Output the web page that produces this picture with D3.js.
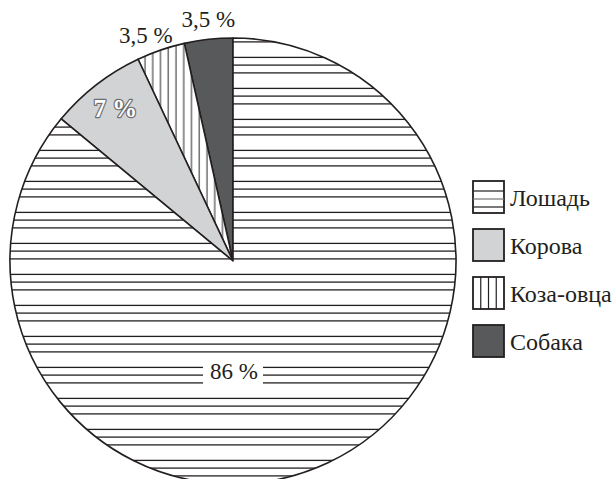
<!DOCTYPE html>
<html>
<head>
<meta charset="utf-8">
<script src="https://cdn.jsdelivr.net/npm/d3@7"></script>
</head>
<body style="margin:0">
<script>
// data (counter-clockwise from 12 o'clock)
const categories = ["Собака", "Коза-овца", "Корова", "Лошадь"]
const values = [3.5, 3.5, 7, 86]
const labels = ["3,5 %", "3,5 %", "7 %", "86 %"]
// legend order
const legendOrder = ["Лошадь", "Корова", "Коза-овца", "Собака"]

const WIDTH = 616
const HEIGHT = 479
const CX = 233, CY = 261, R = 223
const INK = "#231f20"
const SERIF = "Liberation Serif"

const svg = d3.select("body").append("svg")
  .attr("width", WIDTH)
  .attr("height", HEIGHT)

// hatch patterns
const defs = svg.append("defs")

const horiz = defs.append("pattern")
  .attr("id", "horiz")
  .attr("patternUnits", "userSpaceOnUse")
  .attr("width", 10).attr("height", 31)
horiz.append("rect").attr("width", 10).attr("height", 31).attr("fill", "#fff")
;[13.4, 21.1, 28.9].forEach(y => {
  horiz.append("line")
    .attr("x1", 0).attr("x2", 10).attr("y1", y).attr("y2", y)
    .attr("stroke", INK).attr("stroke-width", 1.3)
})

const vert = defs.append("pattern")
  .attr("id", "vert")
  .attr("patternUnits", "userSpaceOnUse")
  .attr("width", 7.75).attr("height", 10)
vert.append("rect").attr("width", 7.75).attr("height", 10).attr("fill", "#fff")
vert.append("line")
  .attr("x1", 5).attr("x2", 5).attr("y1", 0).attr("y2", 10)
  .attr("stroke", "#4a4a4a").attr("stroke-width", 1.2)

const fills = d3.scaleOrdinal()
  .domain(categories)
  .range(["#58595b", "url(#vert)", "#d1d3d4", "url(#horiz)"])

// pie
const g = svg.append("g")
  .attr("transform", `translate(${CX}, ${CY})`)

const pie = d3.pie()
  .sort(null)
  .startAngle(0)
  .endAngle(-2 * Math.PI)
  .value(d => d.value)

const data = categories.map((c, i) => ({ name: c, value: values[i], label: labels[i] }))
const arcs = pie(data)

const arc = d3.arc().innerRadius(0).outerRadius(R)

g.selectAll("path.slice")
  .data(arcs)
  .enter().append("path")
  .attr("class", "slice")
  .attr("d", arc)
  .attr("fill", d => fills(d.data.name))
  .attr("stroke", INK)
  .attr("stroke-width", 1.6)
  .attr("stroke-linejoin", "round")

// labels
const outerArc = d3.arc().innerRadius(235).outerRadius(235)
const innerArc = d3.arc().innerRadius(192).outerRadius(192)

// dog + goat: outside the rim
arcs.slice(0, 2).forEach((d, i) => {
  const [x, y] = outerArc.centroid(d)
  g.append("text")
    .attr("x", x + (i === 1 ? -11 : 1))
    .attr("y", y + (i === 1 ? 4 : 0))
    .attr("text-anchor", "middle")
    .style("font-family", SERIF)
    .style("font-size", "23px")
    .attr("fill", INK)
    .text(d.data.label)
})

// cow: bold white label inside the slice
{
  const d = arcs[2]
  const [x, y] = innerArc.centroid(d)
  g.append("text")
    .attr("x", x)
    .attr("y", y + 8)
    .attr("text-anchor", "middle")
    .style("font-family", SERIF)
    .style("font-size", "25px")
    .style("font-weight", "bold")
    .attr("stroke", "#6d6e70")
    .attr("stroke-width", 2.4)
    .attr("stroke-linejoin", "round")
    .attr("paint-order", "stroke")
    .attr("fill", "#fff")
    .text(d.data.label)
}

// horse: below the centre, on a white patch
{
  const d = arcs[3]
  g.append("rect")
    .attr("x", -30).attr("y", 101)
    .attr("width", 60).attr("height", 25)
    .attr("fill", "#fff")
  g.append("text")
    .attr("x", 1)
    .attr("y", 118)
    .attr("text-anchor", "middle")
    .style("font-family", SERIF)
    .style("font-size", "23px")
    .attr("fill", INK)
    .text(d.data.label)
}

// legend
const legend = svg.append("g")
  .attr("transform", "translate(473, 181)")

const rows = legend.selectAll("g.row")
  .data(legendOrder)
  .enter().append("g")
  .attr("class", "row")
  .attr("transform", (d, i) => `translate(0, ${i * 48})`)

rows.append("rect")
  .attr("width", 31).attr("height", 32)
  .attr("fill", d => d === "Лошадь" || d === "Коза-овца" ? "#fff" : fills(d))
  .attr("stroke", INK)
  .attr("stroke-width", 1.8)

// hatch inside legend boxes
rows.filter(d => d === "Лошадь").selectAll("line")
  .data([8, 16, 24])
  .enter().append("line")
  .attr("x1", 0).attr("x2", 31)
  .attr("y1", d => d + 2).attr("y2", d => d + 2)
  .attr("stroke", (d, i) => i === 1 ? "#777" : INK)
  .attr("stroke-width", 1.2)

rows.filter(d => d === "Коза-овца").selectAll("line")
  .data([7.75, 15.5, 23.25])
  .enter().append("line")
  .attr("x1", d => d).attr("x2", d => d)
  .attr("y1", 0).attr("y2", 32)
  .attr("stroke", INK)
  .attr("stroke-width", 1.2)

rows.append("text")
  .attr("x", 37)
  .attr("y", 25)
  .style("font-family", SERIF)
  .style("font-size", "24px")
  .attr("fill", INK)
  .text(d => d)
</script>
</body>
</html>
